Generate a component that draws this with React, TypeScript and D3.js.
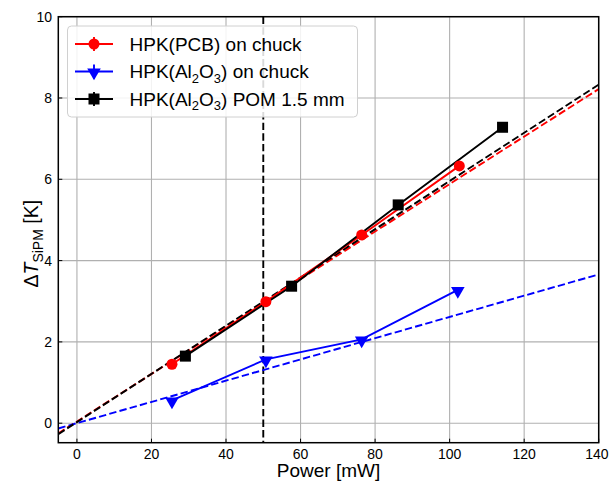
import React from "react";
import * as d3 from "d3";

const xTicks = [0, 20, 40, 60, 80, 100, 120, 140];
const yTicks = [0, 2, 4, 6, 8, 10];

const pcbX = [25.5, 50.7, 76.4, 102.6];
const pcbY = [1.45, 2.99, 4.63, 6.33];
const alX = [25.5, 50.7, 76.4, 102.2];
const alY = [0.56, 1.57, 2.06, 3.28];
const pomX = [29.1, 57.6, 86.2, 114.2];
const pomY = [1.65, 3.37, 5.37, 7.28];

// fit lines (endpoints)
const fitX = [-5, 140];
const fitPcbY = [-0.25, 8.22];
const fitAlY = [-0.13, 3.66];
const fitPomY = [-0.27, 8.33];

const vLineX = 50;

const W = 609, H = 483;
const M = { left: 58.3, right: 598.7, top: 16.7, bottom: 442.7 };

export default function App() {
  const x = d3.scaleLinear().domain([-5, 140]).range([M.left, M.right]);
  const y = d3.scaleLinear().domain([-0.48, 10]).range([M.bottom, M.top]);
  const line = d3.line<[number, number]>().x(d => x(d[0])).y(d => y(d[1]));
  const pts = (xs: number[], ys: number[]) => xs.map((v, i) => [v, ys[i]] as [number, number]);
  const font = "'Liberation Sans', Arial, Helvetica, sans-serif";
  const tri = d3.symbol().type(d3.symbolTriangle).size(80);
  const triPath = tri() as string;
  const dash = "7.4,3.2";
  const lw = 1.9;

  const circle = (cx: number, cy: number, k: string) => <circle key={k} cx={cx} cy={cy} r={5.5} fill="red" />;
  const triangle = (cx: number, cy: number, k: string) => (
    <path key={k} d={triPath} transform={`translate(${cx},${cy + 1}) rotate(180)`} fill="blue" />
  );
  const square = (cx: number, cy: number, k: string) => (
    <rect key={k} x={cx - 5.5} y={cy - 5.5} width={11} height={11} fill="black" />
  );

  const sub = (s: string) => <tspan fontSize="13" dy="4.5">{s}</tspan>;
  const legendItems = [
    { color: "red", marker: circle, label: <tspan>HPK(PCB) on chuck</tspan> },
    {
      color: "blue", marker: triangle,
      label: <tspan>HPK(Al{sub("2")}<tspan dy="-4.5">O</tspan>{sub("3")}<tspan dy="-4.5">) on chuck</tspan></tspan>,
    },
    {
      color: "black", marker: square,
      label: <tspan>HPK(Al{sub("2")}<tspan dy="-4.5">O</tspan>{sub("3")}<tspan dy="-4.5">) POM 1.5 mm</tspan></tspan>,
    },
  ];

  const lastTick = xTicks[xTicks.length - 1];

  return (
    <svg width={W} height={H} style={{ position: "absolute", left: 0, top: 0 }} fontFamily={font}>
      <defs>
        <clipPath id="plotclip">
          <rect x={M.left} y={M.top} width={M.right - M.left} height={M.bottom - M.top} />
        </clipPath>
      </defs>
      <rect width={W} height={H} fill="white" />
      {/* grid */}
      {xTicks.map(t => (
        <line key={"gx" + t} x1={x(t)} x2={x(t)} y1={M.top} y2={M.bottom} stroke="#b0b0b0" strokeWidth={1.1} />
      ))}
      {yTicks.map(t => (
        <line key={"gy" + t} x1={M.left} x2={M.right} y1={y(t)} y2={y(t)} stroke="#b0b0b0" strokeWidth={1.1} />
      ))}
      <g clipPath="url(#plotclip)">
        {/* vertical dashed line */}
        <line x1={x(vLineX)} x2={x(vLineX)} y1={M.top} y2={M.bottom} stroke="black" strokeWidth={lw} strokeDasharray={dash} />
        {/* fits */}
        <path d={line(pts(fitX, fitPcbY)) as string} fill="none" stroke="red" strokeWidth={lw} strokeDasharray={dash} />
        <path d={line(pts(fitX, fitAlY)) as string} fill="none" stroke="blue" strokeWidth={lw} strokeDasharray={dash} />
        <path d={line(pts(fitX, fitPomY)) as string} fill="none" stroke="black" strokeWidth={lw} strokeDasharray={dash} />
        {/* data lines */}
        <path d={line(pts(pcbX, pcbY)) as string} fill="none" stroke="red" strokeWidth={lw} />
        <path d={line(pts(alX, alY)) as string} fill="none" stroke="blue" strokeWidth={lw} />
        <path d={line(pts(pomX, pomY)) as string} fill="none" stroke="black" strokeWidth={lw} />
        {pcbX.map((v, i) => circle(x(v), y(pcbY[i]), "c" + i))}
        {alX.map((v, i) => triangle(x(v), y(alY[i]), "t" + i))}
        {pomX.map((v, i) => square(x(v), y(pomY[i]), "s" + i))}
      </g>
      {/* frame */}
      <rect x={M.left} y={M.top} width={M.right - M.left} height={M.bottom - M.top} fill="none" stroke="black" strokeWidth={1.5} />
      {/* ticks inward */}
      {xTicks.map(t => (
        <g key={"tx" + t}>
          <line x1={x(t)} x2={x(t)} y1={M.bottom} y2={M.bottom - 4} stroke="black" />
          <text
            x={t === lastTick ? W - 0.5 : x(t)}
            y={458.5}
            textAnchor={t === lastTick ? "end" : "middle"}
            fontSize={14}
            fill="black"
          >{t}</text>
        </g>
      ))}
      {yTicks.map(t => (
        <g key={"ty" + t}>
          <line x1={M.left} x2={M.left + 4} y1={y(t)} y2={y(t)} stroke="black" />
          <text x={52} y={y(t) + 5} textAnchor="end" fontSize={14} fill="black">{t}</text>
        </g>
      ))}
      {/* axis labels */}
      <text x={(M.left + M.right) / 2} y={477} textAnchor="middle" fontSize={19} fill="black">Power [mW]</text>
      <text transform={`translate(38,${(M.top + M.bottom) / 2 + 14}) rotate(-90)`} textAnchor="middle" fontSize={19.5} fill="black">
        Δ<tspan fontStyle="italic">T</tspan><tspan fontSize="14" dy="4.5">SiPM</tspan><tspan dy="-4.5"> [K]</tspan>
      </text>
      {/* legend */}
      <g>
        <rect x={67.5} y={26} width={290} height={91} rx={4} fill="white" fillOpacity={0.85} stroke="#d0d0d0" strokeWidth={1} />
        {legendItems.map((it, i) => {
          const cy = 44 + i * 27.5;
          return (
            <g key={"lg" + i}>
              <line x1={75} x2={113} y1={cy} y2={cy} stroke={it.color} strokeWidth={lw} />
              <line x1={94} x2={94} y1={cy - 7} y2={cy + 7} stroke={it.color} strokeWidth={lw} />
              {it.marker(94, cy, "lm" + i)}
              <text x={129.5} y={cy + 6.5} fontSize={19} fill="black">{it.label}</text>
            </g>
          );
        })}
      </g>
    </svg>
  );
}
